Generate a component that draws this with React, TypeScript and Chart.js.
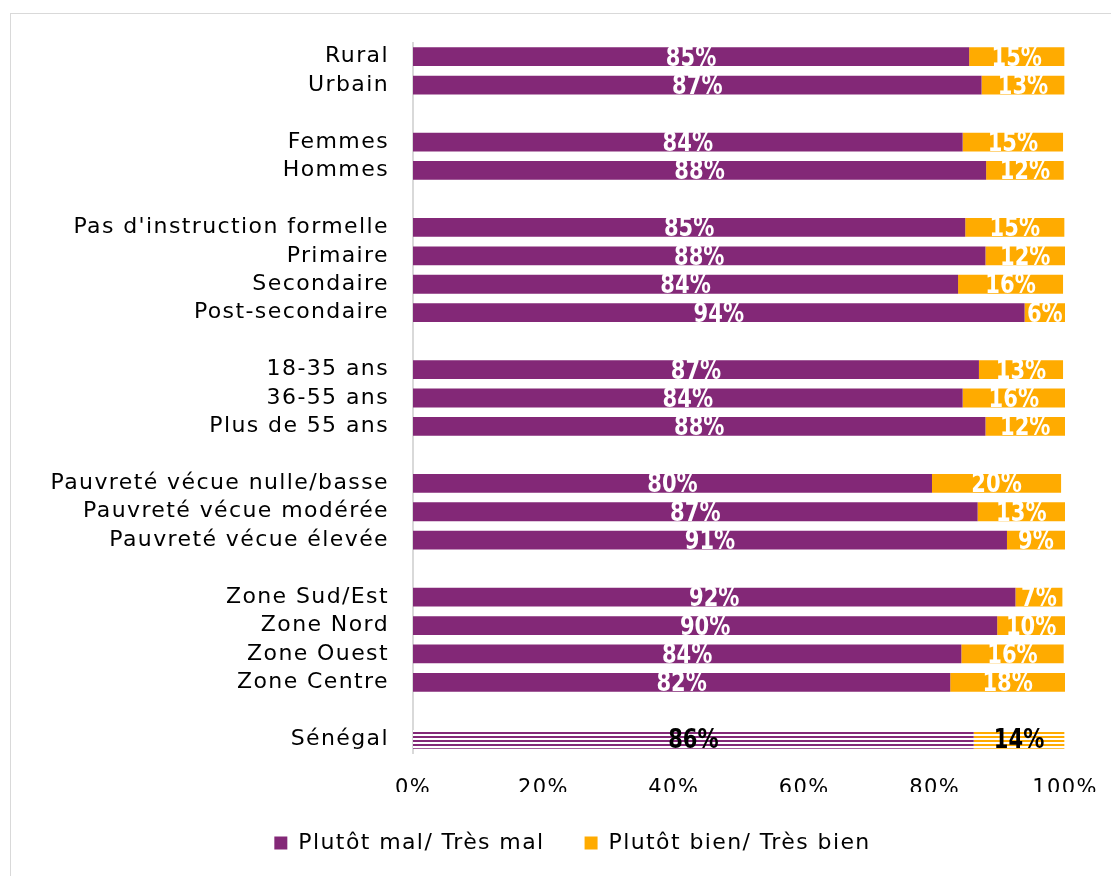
import { useEffect, useRef } from 'react';
import { Chart, registerables } from 'chart.js';
Chart.register(...registerables);

const categories = [
  'Rural', 'Urbain', '',
  'Femmes', 'Hommes', '',
  "Pas d'instruction formelle", 'Primaire', 'Secondaire', 'Post-secondaire', '',
  '18-35 ans', '36-55 ans', 'Plus de 55 ans', '',
  'Pauvreté vécue nulle/basse', 'Pauvreté vécue modérée', 'Pauvreté vécue élevée', '',
  'Zone Sud/Est', 'Zone Nord', 'Zone Ouest', 'Zone Centre', '',
  'Sénégal',
];
const malValues = [85.3, 87.2, null, 84.3, 87.9, null, 84.7, 87.8, 83.6, 93.8, null, 86.8, 84.3, 87.8, null, 79.6, 86.6, 91.1, null, 92.4, 89.6, 84.1, 82.4, null, 86.0];
const bienValues = [14.6, 12.7, null, 15.4, 11.9, null, 15.2, 12.2, 16.1, 6.2, null, 12.9, 15.7, 12.2, null, 19.8, 13.4, 8.9, null, 7.2, 10.4, 15.7, 17.6, null, 13.9];
const seriesNames = ['Plutôt mal/ Très mal', 'Plutôt bien/ Très bien'];
const xTicks = [0, 20, 40, 60, 80, 100];

const PURPLE = '#832877';
const ORANGE = '#FFAB00';
const FONT = "'DejaVu Sans', sans-serif";
const SPACING = '1.4px';

function stripe(color: string): CanvasPattern | string {
  const c = document.createElement('canvas');
  c.width = 4;
  c.height = 4;
  const g = c.getContext('2d');
  if (!g) return color;
  g.fillStyle = '#ffffff';
  g.fillRect(0, 0, 4, 4);
  g.fillStyle = color;
  g.fillRect(0, 0, 4, 2);
  const p = g.createPattern(c, 'repeat');
  return p || color;
}

const spacingPlugin = {
  id: 'spacing',
  beforeUpdate(chart: any) {
    chart.ctx.letterSpacing = SPACING;
  },
  afterLayout(chart: any) {
    const lg = chart.legend;
    if (lg) {
      lg.left += 40;
      lg.right += 40;
    }
  },
  beforeDraw(chart: any) {
    chart.ctx.letterSpacing = SPACING;
  },
};

const labelPlugin = {
  id: 'segLabels',
  afterDatasetsDraw(chart: any) {
    const ctx = chart.ctx;
    const last = categories.length - 1;
    ctx.save();
    ctx.letterSpacing = '0px';
    ctx.font = `bold 27px ${FONT}`;
    ctx.textAlign = 'center';
    ctx.textBaseline = 'middle';
    const sx = 0.78;
    chart.data.datasets.forEach((ds: any, di: number) => {
      const meta = chart.getDatasetMeta(di);
      meta.data.forEach((el: any, i: number) => {
        const v = ds.data[i];
        if (v === null || v === undefined) return;
        const { x, y, base } = el.getProps(['x', 'y', 'base'], true);
        ctx.fillStyle = i === last ? '#000000' : '#ffffff';
        ctx.save();
        ctx.translate((x + base) / 2, y + 2);
        ctx.scale(sx, 1);
        ctx.fillText(Math.round(v) + '%', 0, 0);
        ctx.restore();
      });
    });
    ctx.restore();
  },
};

export default function App() {
  const ref = useRef<HTMLCanvasElement | null>(null);
  useEffect(() => {
    document.documentElement.style.overflow = 'hidden';
    document.body.style.overflow = 'hidden';
    if (!ref.current) return;
    const last = categories.length - 1;
    const purpleStripe = stripe(PURPLE);
    const orangeStripe = stripe(ORANGE);
    const chart = new Chart(ref.current, {
      type: 'bar',
      data: {
        labels: categories,
        datasets: [
          {
            label: seriesNames[0],
            data: malValues,
            backgroundColor: (c: any) => (c.dataIndex === last ? purpleStripe : PURPLE),
            barPercentage: 0.66,
            categoryPercentage: 1,
          },
          {
            label: seriesNames[1],
            data: bienValues,
            backgroundColor: (c: any) => (c.dataIndex === last ? orangeStripe : ORANGE),
            barPercentage: 0.66,
            categoryPercentage: 1,
          },
        ],
      },
      options: {
        indexAxis: 'y',
        responsive: false,
        animation: false,
        layout: { padding: { left: 0, right: 46, top: 42.5, bottom: 12 } },
        scales: {
          x: {
            stacked: true,
            min: 0,
            max: 100,
            afterBuildTicks: (s: any) => {
              s.ticks = xTicks.map((v) => ({ value: v }));
            },
            afterFit: (s: any) => {
              s.height = 38.5;
              s.paddingLeft = 0;
              s.paddingRight = 0;
            },
            grid: { display: false, drawTicks: false },
            border: { display: false },
            ticks: {
              padding: 22,
              color: '#000000',
              font: { family: FONT, size: 21 },
              callback: (v: any) => v + '%',
            },
          },
          y: {
            stacked: true,
            afterFit: (s: any) => {
              s.width = 413;
              s.paddingTop = 0;
              s.paddingBottom = 0;
            },
            grid: { display: false, drawTicks: false },
            border: { display: true, color: '#d9d9d9', width: 2 },
            ticks: {
              autoSkip: false,
              padding: 24,
              color: '#000000',
              font: { family: FONT, size: 22 },
            },
          },
        },
        plugins: {
          tooltip: { enabled: false },
          legend: {
            position: 'bottom',
            labels: {
              boxWidth: 13,
              boxHeight: 13,
              padding: 40,
              color: '#000000',
              font: { family: FONT, size: 22 },
            },
          },
        },
      },
      plugins: [spacingPlugin, labelPlugin],
    } as any);
    return () => chart.destroy();
  }, []);
  return (
    <div style={{ position: 'fixed', left: 0, top: 0, width: 1111, height: 876, overflow: 'hidden', background: '#ffffff' }}>
      <div style={{ position: 'absolute', left: 10, top: 13, width: 1200, height: 1000, border: '1px solid #d9d9d9' }} />
      <canvas ref={ref} width={1111} height={876} style={{ position: 'absolute', left: 0, top: 0, width: 1111, height: 876 }} />
    </div>
  );
}
